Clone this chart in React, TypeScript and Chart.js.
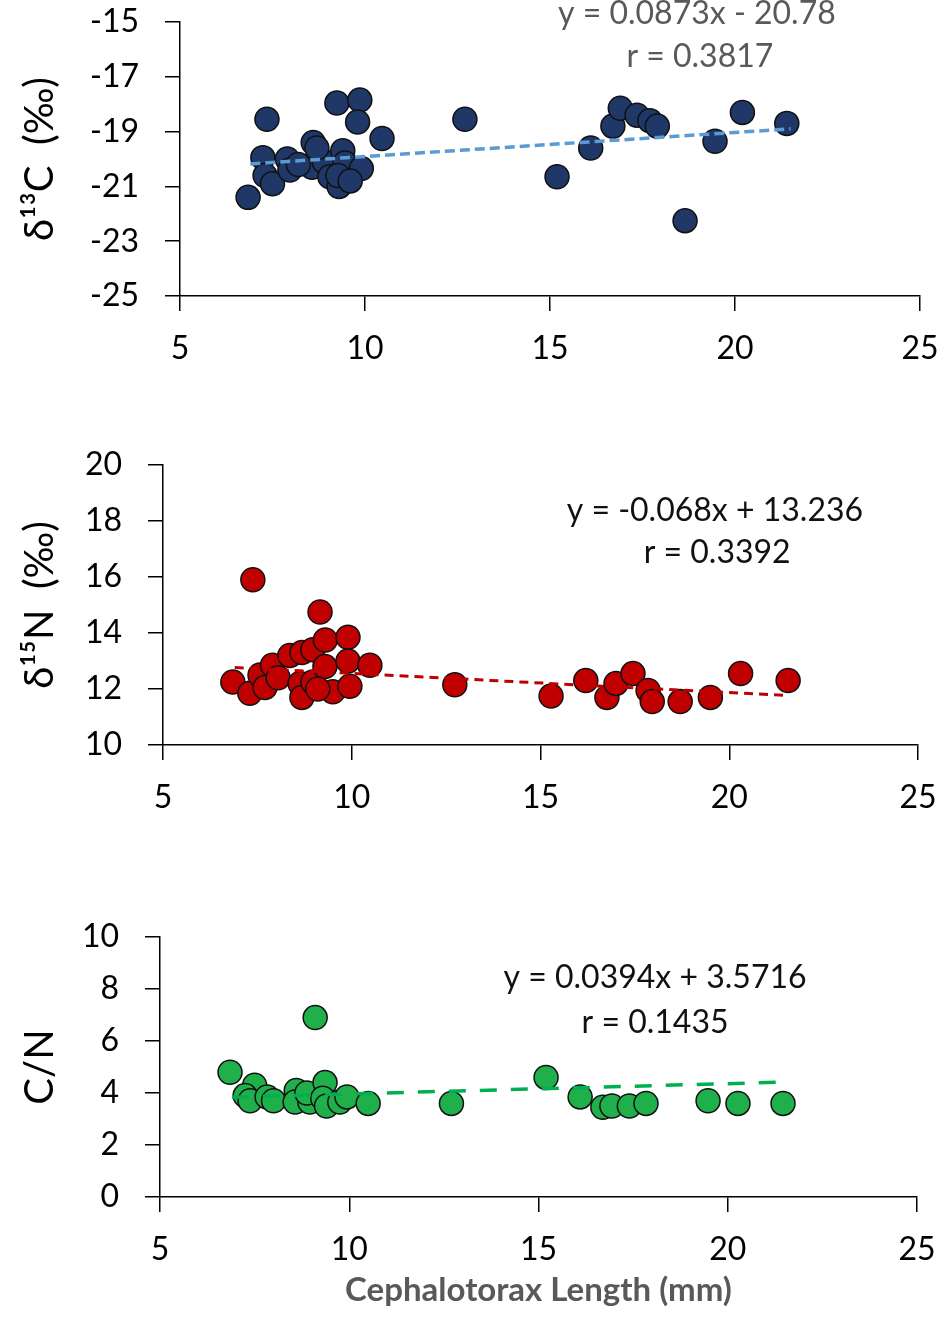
import { useEffect, useRef } from 'react'
import { Chart, registerables } from 'chart.js'

Chart.register(...registerables)

const FONT = 'Lato, "Noto Sans", sans-serif'

// δ13C panel
const carbonLength = [
  6.84, 7.35, 7.24, 7.3, 7.5, 7.9, 7.97, 8.6, 8.57, 8.9, 9.05, 9.3, 9.4, 9.46, 9.27, 9.9,
  9.24, 9.86, 9.8, 10.46, 8.7, 8.2, 9.6, 12.7, 15.19, 16.1, 16.7, 16.9, 17.35, 17.7, 17.9,
  18.65, 19.46, 20.2, 21.4,
]
const carbonDelta = [
  -21.4, -18.55, -19.95, -20.6, -20.9, -20.0, -20.4, -19.4, -20.3, -20.1, -20.65, -21.0, -19.7,
  -20.15, -20.6, -20.35, -17.96, -17.85, -18.65, -19.25, -19.6, -20.2, -20.8, -18.55, -20.65,
  -19.6, -18.8, -18.15, -18.4, -18.6, -18.8, -22.25, -19.35, -18.3, -18.7,
]
const carbonTrendX = [6.9, 21.5]
const carbonTrendY = [-20.18, -18.9]
const carbonEquation = ['y = 0.0873x - 20.78', 'r = 0.3817']

// δ15N panel
const nitrogenLength = [
  6.85, 7.3, 7.38, 7.57, 7.7, 7.9, 8.05, 8.36, 8.63, 8.68, 8.68, 8.97, 8.97, 9.16, 9.29, 9.3,
  9.5, 9.9, 9.9, 9.95, 10.48, 9.1, 12.73, 15.28, 16.2, 16.76, 17.0, 17.45, 17.85, 17.96, 18.7,
  19.5, 20.3, 21.56,
]
const nitrogenDelta = [
  12.25, 11.85, 15.9, 12.5, 12.05, 12.85, 12.4, 13.2, 12.2, 13.3, 11.7, 13.4, 12.25, 14.75, 12.8,
  13.75, 11.9, 13.85, 13.0, 12.1, 12.85, 12.0, 12.15, 11.75, 12.3, 11.7, 12.2, 12.55, 11.95,
  11.55, 11.55, 11.7, 12.55, 12.3,
]
const nitrogenTrendX = [6.9, 21.5]
const nitrogenTrendY = [12.77, 11.77]
const nitrogenEquation = ['y = -0.068x + 13.236', 'r = 0.3392']

// C/N panel
const ratioLength = [
  6.85, 7.5, 7.25, 7.38, 7.83, 8.0, 8.6, 8.57, 8.96, 8.88, 9.36, 9.3, 9.4, 9.75, 9.94, 10.5, 9.1,
  12.7, 15.2, 16.1, 16.7, 16.94, 17.4, 17.84, 19.48, 20.27, 21.46,
]
const ratioValue = [
  4.8, 4.3, 3.9, 3.7, 3.85, 3.7, 4.1, 3.65, 3.65, 4.0, 4.4, 3.8, 3.5, 3.65, 3.85, 3.6, 6.9, 3.6,
  4.6, 3.85, 3.45, 3.5, 3.5, 3.6, 3.7, 3.6, 3.6,
]
const ratioTrendX = [6.9, 21.5]
const ratioTrendY = [3.84, 4.42]
const ratioEquation = ['y = 0.0394x + 3.5716', 'r = 0.1435']

const equationPlugin = {
  id: 'equation',
  afterDraw(chart: any, _args: any, opts: any) {
    const { ctx, scales } = chart
    ctx.save()
    ctx.font = `32px ${FONT}`
    ctx.fillStyle = opts.color
    ctx.textAlign = 'center'
    ctx.textBaseline = 'middle'
    opts.lines.forEach((t: string, i: number) => {
      ctx.fillText(t, scales.x.getPixelForValue(opts.x[i]), scales.y.getPixelForValue(opts.y[i]))
    })
    ctx.restore()
  },
}

type PanelProps = {
  top: number
  height: number
  chartTop: number
  chartBottom: number
  chartLeft: number
  chartRight: number
  xs: number[]
  ys: number[]
  trendX: number[]
  trendY: number[]
  fill: string
  line: string
  lineWidth: number
  dash: number[]
  yMin: number
  yMax: number
  yTitle: string
  xTitle?: string
  equation: string[]
  eqX: number[]
  eqY: number[]
  eqColor: string
}

function Panel(p: PanelProps) {
  const canvasRef = useRef<HTMLCanvasElement>(null)

  useEffect(() => {
    if (!canvasRef.current) return
    const chart = new Chart(canvasRef.current, {
      type: 'scatter',
      data: {
        datasets: [
          {
            data: p.trendX.map((x, i) => ({ x, y: p.trendY[i] })),
            showLine: true,
            borderColor: p.line,
            borderWidth: p.lineWidth,
            borderDash: p.dash,
            pointRadius: 0,
          },
          {
            data: p.xs.map((x, i) => ({ x, y: p.ys[i] })),
            backgroundColor: p.fill,
            borderColor: '#111',
            borderWidth: 1.5,
            pointRadius: 12,
          },
        ],
      },
      options: {
        responsive: false,
        animation: false,
        events: [],
        layout: { padding: { top: p.chartTop, right: 950 - p.chartRight, left: 0, bottom: 0 } },
        plugins: {
          legend: { display: false },
          tooltip: { enabled: false },
          equation: { lines: p.equation, x: p.eqX, y: p.eqY, color: p.eqColor },
        } as any,
        scales: {
          x: {
            type: 'linear',
            min: 5,
            max: 25,
            ticks: { stepSize: 5, color: '#000', font: { family: FONT, size: 32 }, padding: 18 },
            grid: { drawOnChartArea: false, drawTicks: true, tickLength: 15, color: '#000', lineWidth: 1.5 },
            border: { display: true, color: '#000', width: 1.5 },
            title: p.xTitle
              ? {
                  display: true,
                  text: p.xTitle,
                  color: '#595959',
                  font: { family: FONT, size: 33, weight: 'bold' },
                  padding: { top: 0, bottom: 14 },
                }
              : { display: false },
            afterFit: (s: any) => {
              s.height = p.height - p.chartBottom
              s.paddingLeft = 0
              s.paddingRight = 0
            },
          },
          y: {
            type: 'linear',
            min: p.yMin,
            max: p.yMax,
            ticks: { stepSize: 2, color: '#000', font: { family: FONT, size: 32 }, padding: 26 },
            grid: { drawOnChartArea: false, drawTicks: true, tickLength: 15, color: '#000', lineWidth: 1.5 },
            border: { display: true, color: '#000', width: 1.5 },
            title: {
              display: true,
              text: p.yTitle,
              color: '#000',
              font: { family: FONT, size: 40, lineHeight: 1.2 },
              padding: { top: 16, bottom: 0 },
            },
            afterFit: (s: any) => {
              s.width = p.chartLeft
              s.paddingTop = 0
              s.paddingBottom = 0
            },
          },
        },
      },
      plugins: [equationPlugin],
    })
    return () => chart.destroy()
  }, [])

  return (
    <canvas
      ref={canvasRef}
      width={950}
      height={p.height}
      style={{ position: 'absolute', left: 0, top: p.top, width: 950, height: p.height }}
    />
  )
}

export default function App() {
  useEffect(() => {
    document.body.style.margin = '0'
  }, [])

  return (
    <div style={{ position: 'relative', width: 950, height: 1324, background: '#fff' }}>
      <Panel
        top={0}
        height={380}
        chartTop={22}
        chartBottom={296}
        chartLeft={180}
        chartRight={920}
        xs={carbonLength}
        ys={carbonDelta}
        trendX={carbonTrendX}
        trendY={carbonTrendY}
        fill="#1f3868"
        line="#5b9bd5"
        lineWidth={3.5}
        dash={[10, 5]}
        yMin={-25}
        yMax={-15}
        yTitle="δ¹³C  (‰)"
        equation={carbonEquation}
        eqX={[18.97, 19.05]}
        eqY={[-14.7, -16.28]}
        eqColor="#595959"
      />
      <Panel
        top={430}
        height={400}
        chartTop={35}
        chartBottom={315}
        chartLeft={163}
        chartRight={918}
        xs={nitrogenLength}
        ys={nitrogenDelta}
        trendX={nitrogenTrendX}
        trendY={nitrogenTrendY}
        fill="#c00000"
        line="#c00000"
        lineWidth={3}
        dash={[9, 6]}
        yMin={10}
        yMax={20}
        yTitle="δ¹⁵N  (‰)"
        equation={nitrogenEquation}
        eqX={[19.62, 19.68]}
        eqY={[18.36, 16.86]}
        eqColor="#111"
      />
      <Panel
        top={900}
        height={424}
        chartTop={37}
        chartBottom={297}
        chartLeft={160}
        chartRight={917}
        xs={ratioLength}
        ys={ratioValue}
        trendX={ratioTrendX}
        trendY={ratioTrendY}
        fill="#20b04b"
        line="#00b050"
        lineWidth={3.5}
        dash={[17, 14]}
        yMin={0}
        yMax={10}
        yTitle="C/N"
        xTitle="Cephalotorax Length (mm)"
        equation={ratioEquation}
        eqX={[18.08, 18.08]}
        eqY={[8.42, 6.69]}
        eqColor="#111"
      />
    </div>
  )
}
